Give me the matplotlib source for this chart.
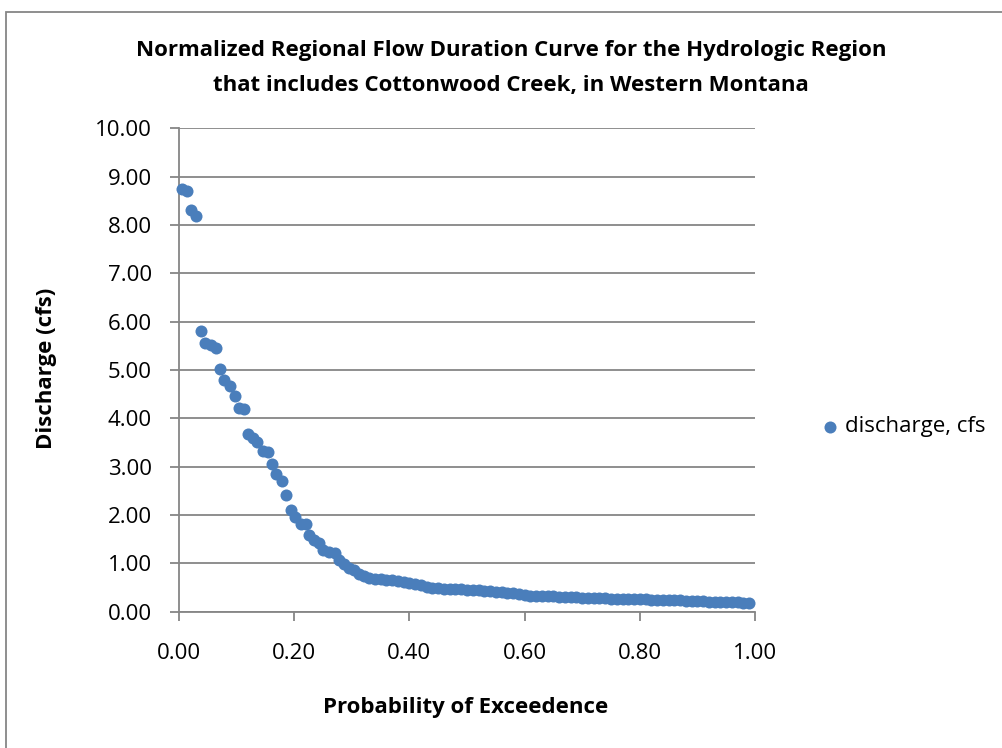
# -*- coding: utf-8 -*-
import numpy as np
import matplotlib
matplotlib.use('Agg')
import matplotlib.pyplot as plt
from matplotlib.patches import Rectangle

plt.rcParams['font.family'] = ['Open Sans', 'DejaVu Sans']

# steep part of the curve, read point by point
x_head = [0.005, 0.014, 0.021, 0.030, 0.038, 0.046, 0.055, 0.064, 0.071, 0.078,
          0.088, 0.097, 0.104, 0.113, 0.120, 0.128, 0.136, 0.145, 0.154, 0.162,
          0.169, 0.178, 0.186, 0.194, 0.202, 0.212, 0.220, 0.226, 0.235, 0.243,
          0.250, 0.261, 0.270, 0.278, 0.287, 0.296, 0.304, 0.313, 0.322, 0.330]
y_head = [8.75, 8.70, 8.32, 8.18, 5.80, 5.56, 5.52, 5.46, 5.02, 4.80,
          4.67, 4.47, 4.22, 4.20, 3.67, 3.60, 3.51, 3.33, 3.31, 3.06,
          2.85, 2.71, 2.41, 2.11, 1.96, 1.82, 1.81, 1.58, 1.49, 1.43,
          1.27, 1.23, 1.22, 1.06, 0.98, 0.91, 0.87, 0.78, 0.73, 0.70]

# flat tail (dense band of points)
x_tail = [0.34, 0.35, 0.36, 0.37, 0.38, 0.39, 0.40, 0.41, 0.42, 0.43,
          0.44, 0.45, 0.46, 0.47, 0.48, 0.49, 0.50, 0.51, 0.52, 0.53,
          0.54, 0.55, 0.56, 0.57, 0.58, 0.59, 0.60, 0.61, 0.62, 0.63,
          0.64, 0.65, 0.66, 0.67, 0.68, 0.69, 0.70, 0.71, 0.72, 0.73,
          0.74, 0.75, 0.76, 0.77, 0.78, 0.79, 0.80, 0.81, 0.82, 0.83,
          0.84, 0.85, 0.86, 0.87, 0.88, 0.89, 0.90, 0.91, 0.92, 0.93,
          0.94, 0.95, 0.96, 0.97, 0.98, 0.99]
y_tail = [0.68, 0.67, 0.66, 0.65, 0.64, 0.62, 0.60, 0.58, 0.55, 0.51,
          0.50, 0.49, 0.48, 0.47, 0.46, 0.46, 0.45, 0.45, 0.44, 0.43,
          0.43, 0.41, 0.40, 0.39, 0.38, 0.37, 0.35, 0.33, 0.33, 0.33,
          0.32, 0.32, 0.31, 0.31, 0.30, 0.30, 0.29, 0.29, 0.28, 0.28,
          0.28, 0.27, 0.27, 0.27, 0.26, 0.26, 0.26, 0.26, 0.25, 0.25,
          0.25, 0.24, 0.24, 0.24, 0.23, 0.23, 0.22, 0.22, 0.21, 0.21,
          0.21, 0.20, 0.20, 0.20, 0.19, 0.19]

x = np.array(x_head + x_tail)
y = np.array(y_head + y_tail)

x_ticks = [0.0, 0.2, 0.4, 0.6, 0.8, 1.0]
y_ticks = [0, 1, 2, 3, 4, 5, 6, 7, 8, 9, 10]

grey = '#868686'
blue = '#4A7EBB'

fig = plt.figure(figsize=(10.03, 7.48), dpi=100)
ax = fig.add_axes([179/1003, 1-611.7/748, 576/1003, (611.7-128.4)/748])

ax.scatter(x, y, s=75, color=blue, linewidths=0, label='discharge, cfs', zorder=3, clip_on=False)

ax.set_xlim(0, 1)
ax.set_ylim(0, 10)
ax.set_xticks(x_ticks)
ax.set_yticks(y_ticks)
ax.set_xticklabels(['%.2f' % v for v in x_ticks])
ax.set_yticklabels(['%.2f' % v for v in y_ticks])
ax.tick_params(axis='both', labelsize=16, color=grey, length=6.5, width=1.3, direction='out')
ax.tick_params(axis='x', pad=16)
ax.tick_params(axis='y', pad=13)

ax.grid(axis='y', color=grey, linewidth=1.3)
ax.set_axisbelow(True)
for s in ['top', 'right']:
    ax.spines[s].set_visible(False)
for s in ['left', 'bottom']:
    ax.spines[s].set_color(grey)
    ax.spines[s].set_linewidth(1.3)

# titles
fig.text(511/1003, 1-56/748, 'Normalized Regional Flow Duration Curve for the Hydrologic Region',
         ha='center', va='baseline', fontsize=16, fontweight='bold')
fig.text(511/1003, 1-91/748, 'that includes Cottonwood Creek, in Western Montana',
         ha='center', va='baseline', fontsize=16, fontweight='bold')
fig.text(466/1003, 1-713/748, 'Probability of Exceedence', ha='center', va='baseline',
         fontsize=16, fontweight='bold')
fig.text(47/1003, 1-368/748, 'Discharge (cfs)', ha='center', va='center', rotation=90,
         fontsize=16, fontweight='bold')

leg = ax.legend(loc='center left', bbox_to_anchor=(821/1003, 1-427/748),
                bbox_transform=fig.transFigure, frameon=False, fontsize=16,
                handlelength=0.8, handletextpad=0.3, borderpad=0, borderaxespad=0,
                scatterpoints=1)

# chart area border
fig.patches.append(Rectangle((6.5/1003, -0.1), 1.2, 1.1-12/748, transform=fig.transFigure,
                             fill=False, edgecolor=grey, linewidth=1.3))

fig.savefig('out.png', dpi=100)
